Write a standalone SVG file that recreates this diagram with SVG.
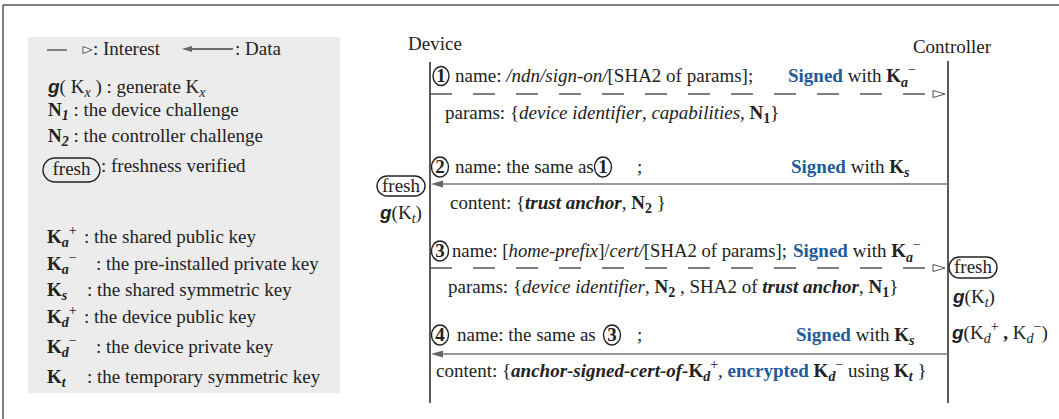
<svg xmlns="http://www.w3.org/2000/svg" width="1059" height="419" viewBox="0 0 1059 419">
<style>
text{font-family:"Liberation Serif","Times New Roman",serif;font-size:19px;fill:#222}
.i{font-style:italic}
.b{font-weight:bold}
.bi{font-weight:bold;font-style:italic}
.blue{fill:#1f5b9a;font-weight:bold}
.sub{font-size:14px}
.g{font-family:"Liberation Sans",Arial,sans-serif;font-weight:bold;font-style:italic}
.life{stroke:#333;stroke-width:1.6;fill:none}
.dash{stroke:#555;stroke-width:1.3;stroke-dasharray:22 21;fill:none}
.data{stroke:#777;stroke-width:1.6;fill:none}
.tri{fill:#fff;stroke:#555;stroke-width:1}
.head{fill:#666}
.circ{fill:none;stroke:#222;stroke-width:1.4}
</style>
<g id="frame">
<line x1="3" y1="5" x2="1059" y2="5" stroke="#555" stroke-width="1.5"/>
<line x1="3" y1="5" x2="3" y2="419" stroke="#555" stroke-width="1.5"/>
</g>
<g id="legend">
<rect x="28" y="37" width="312" height="356" fill="#ececec"/>
<line x1="47" y1="50" x2="67" y2="50" stroke="#444" stroke-width="1.3"/>
<polygon class="tri" points="83,46.5 92,50 83,53.5"/>
<text x="93" y="55">: Interest</text>
<line x1="190" y1="49" x2="233" y2="49" stroke="#444" stroke-width="1.3"/>
<polygon class="head" points="182,49 192,46 192,52"/>
<text x="235" y="55">: Data</text>
<text x="48" y="93"><tspan class="g">g</tspan>( K<tspan class="i sub" dy="4">x</tspan><tspan dy="-4"> ) : generate K</tspan><tspan class="i sub" dy="4">x</tspan></text>
<text x="48" y="116"><tspan class="b">N</tspan><tspan class="bi sub" dy="4">1</tspan><tspan dy="-4"> : the device challenge</tspan></text>
<text x="48" y="142"><tspan class="b">N</tspan><tspan class="bi sub" dy="4">2</tspan><tspan dy="-4"> : the controller challenge</tspan></text>
<rect x="43" y="158" width="57" height="24" rx="12" fill="none" stroke="#222" stroke-width="1.4"/>
<text x="71.5" y="175" text-anchor="middle">fresh</text>
<text x="101" y="172">: freshness verified</text>
<text x="47" y="243"><tspan class="b">K</tspan><tspan class="bi sub" dy="4">a</tspan><tspan dy="-12" class="sub">+</tspan></text>
<text x="84" y="243">: the shared public key</text>
<text x="47" y="270"><tspan class="b">K</tspan><tspan class="bi sub" dy="4">a</tspan><tspan dy="-12" class="sub">−</tspan></text>
<text x="96" y="270">: the pre-installed private key</text>
<text x="47" y="296"><tspan class="b">K</tspan><tspan class="bi sub" dy="4">s</tspan></text>
<text x="87" y="296">: the shared symmetric key</text>
<text x="47" y="323"><tspan class="b">K</tspan><tspan class="bi sub" dy="4">d</tspan><tspan dy="-12" class="sub">+</tspan></text>
<text x="84" y="323">: the device public key</text>
<text x="47" y="353"><tspan class="b">K</tspan><tspan class="bi sub" dy="4">d</tspan><tspan dy="-12" class="sub">−</tspan></text>
<text x="96" y="353">: the device private key</text>
<text x="47" y="383"><tspan class="b">K</tspan><tspan class="bi sub" dy="4">t</tspan></text>
<text x="87" y="383">:  the temporary symmetric key</text>
</g>
<g id="device">
<text x="435" y="50" text-anchor="middle">Device</text>
<line class="life" x1="430" y1="62" x2="430" y2="403"/>
<rect x="377" y="176" width="48" height="20" rx="10" fill="none" stroke="#222" stroke-width="1.4"/>
<text x="401" y="192" text-anchor="middle">fresh</text>
<text x="380" y="219"><tspan class="g">g</tspan>(K<tspan class="i sub" dy="4">t</tspan><tspan dy="-4">)</tspan></text>
</g>
<g id="controller">
<text x="952" y="53" text-anchor="middle">Controller</text>
<line class="life" x1="948" y1="61" x2="948" y2="403"/>
<rect x="949" y="257" width="48" height="21" rx="10.5" fill="none" stroke="#222" stroke-width="1.4"/>
<text x="973" y="273" text-anchor="middle">fresh</text>
<text x="953" y="303"><tspan class="g">g</tspan>(K<tspan class="i sub" dy="4">t</tspan><tspan dy="-4">)</tspan></text>
<text x="952" y="339"><tspan class="g">g</tspan>(K<tspan class="i sub" dy="4">d</tspan><tspan class="sub" dy="-12">+</tspan><tspan class="b" dy="8"> , </tspan>K<tspan class="i sub" dy="4">d</tspan><tspan class="sub" dy="-12">−</tspan><tspan dy="8">)</tspan></text>
</g>
<g id="connectors">
<line class="dash" x1="430" y1="94" x2="926" y2="94"/>
<polygon class="tri" points="933,90.5 945,94 933,97.5"/>
<line class="data" x1="948" y1="184" x2="440" y2="184"/>
<polygon class="head" points="431,184 443,180.5 443,187.5"/>
<line class="dash" x1="430" y1="268" x2="926" y2="268"/>
<polygon class="tri" points="933,264.5 945,268 933,271.5"/>
<line class="data" x1="948" y1="354" x2="440" y2="354"/>
<polygon class="head" points="431,354 443,350.5 443,357.5"/>
</g>
<g id="msg1">
<ellipse class="circ" cx="441" cy="76" rx="8" ry="9.5"/>
<text x="441" y="82" text-anchor="middle" class="b">1</text>
<text x="455" y="82">name: <tspan class="i">/ndn/sign-on/</tspan>[SHA2 of params];</text>
<text x="788" y="82"><tspan class="blue">Signed</tspan> with <tspan class="b">K</tspan><tspan class="bi sub" dy="5">a</tspan><tspan class="sub" dy="-13">−</tspan></text>
<text x="445" y="119">params: {<tspan class="i">device identifier</tspan>, <tspan class="i">capabilities,</tspan> <tspan class="b">N</tspan><tspan class="b sub" dy="4">1</tspan><tspan dy="-4">}</tspan></text>
</g>
<g id="msg2">
<ellipse class="circ" cx="440" cy="167" rx="8.5" ry="10"/>
<text x="440" y="173" text-anchor="middle" class="b">2</text>
<text x="455" y="173">name: the same as</text>
<ellipse class="circ" cx="603" cy="167" rx="8.5" ry="10"/>
<text x="603" y="173" text-anchor="middle" class="b">1</text>
<text x="637" y="173">;</text>
<text x="791" y="173"><tspan class="blue">Signed</tspan> with <tspan class="b">K</tspan><tspan class="bi sub" dy="4">s</tspan></text>
<text x="450" y="209">content: {<tspan class="bi">trust anchor</tspan>, <tspan class="b">N</tspan><tspan class="b sub" dy="4">2</tspan><tspan dy="-4"> }</tspan></text>
</g>
<g id="msg3">
<ellipse class="circ" cx="440" cy="251" rx="8.5" ry="10"/>
<text x="440" y="257" text-anchor="middle" class="b">3</text>
<text x="452" y="257" textLength="335" lengthAdjust="spacingAndGlyphs">name: [<tspan class="i">home-prefix</tspan>]/<tspan class="i">cert/</tspan>[SHA2 of params];</text>
<text x="793" y="257"><tspan class="blue">Signed</tspan> with <tspan class="b">K</tspan><tspan class="bi sub" dy="5">a</tspan><tspan class="sub" dy="-13">−</tspan></text>
<text x="448" y="293">params: {<tspan class="i">device identifier</tspan>, <tspan class="b">N</tspan><tspan class="b sub" dy="4">2</tspan><tspan dy="-4"> , SHA2 of </tspan><tspan class="bi">trust anchor</tspan>, <tspan class="b">N</tspan><tspan class="b sub" dy="4">1</tspan><tspan dy="-4">}</tspan></text>
</g>
<g id="msg4">
<ellipse class="circ" cx="440" cy="335" rx="8.5" ry="10"/>
<text x="440" y="341" text-anchor="middle" class="b">4</text>
<text x="457" y="341">name: the same as</text>
<ellipse class="circ" cx="612" cy="335" rx="8.5" ry="10"/>
<text x="612" y="341" text-anchor="middle" class="b">3</text>
<text x="637" y="341">;</text>
<text x="796" y="341"><tspan class="blue">Signed</tspan> with <tspan class="b">K</tspan><tspan class="bi sub" dy="4">s</tspan></text>
<text x="436" y="377">content: {<tspan class="bi">anchor-signed-cert-of-</tspan><tspan class="b">K</tspan><tspan class="bi sub" dy="4">d</tspan><tspan class="sub" dy="-12">+</tspan><tspan dy="8">, </tspan><tspan class="blue">encrypted</tspan> <tspan class="b">K</tspan><tspan class="bi sub" dy="4">d</tspan><tspan class="sub" dy="-12">−</tspan><tspan dy="8"> using </tspan><tspan class="b">K</tspan><tspan class="bi sub" dy="4">t</tspan><tspan dy="-4"> }</tspan></text>
</g>
</svg>
